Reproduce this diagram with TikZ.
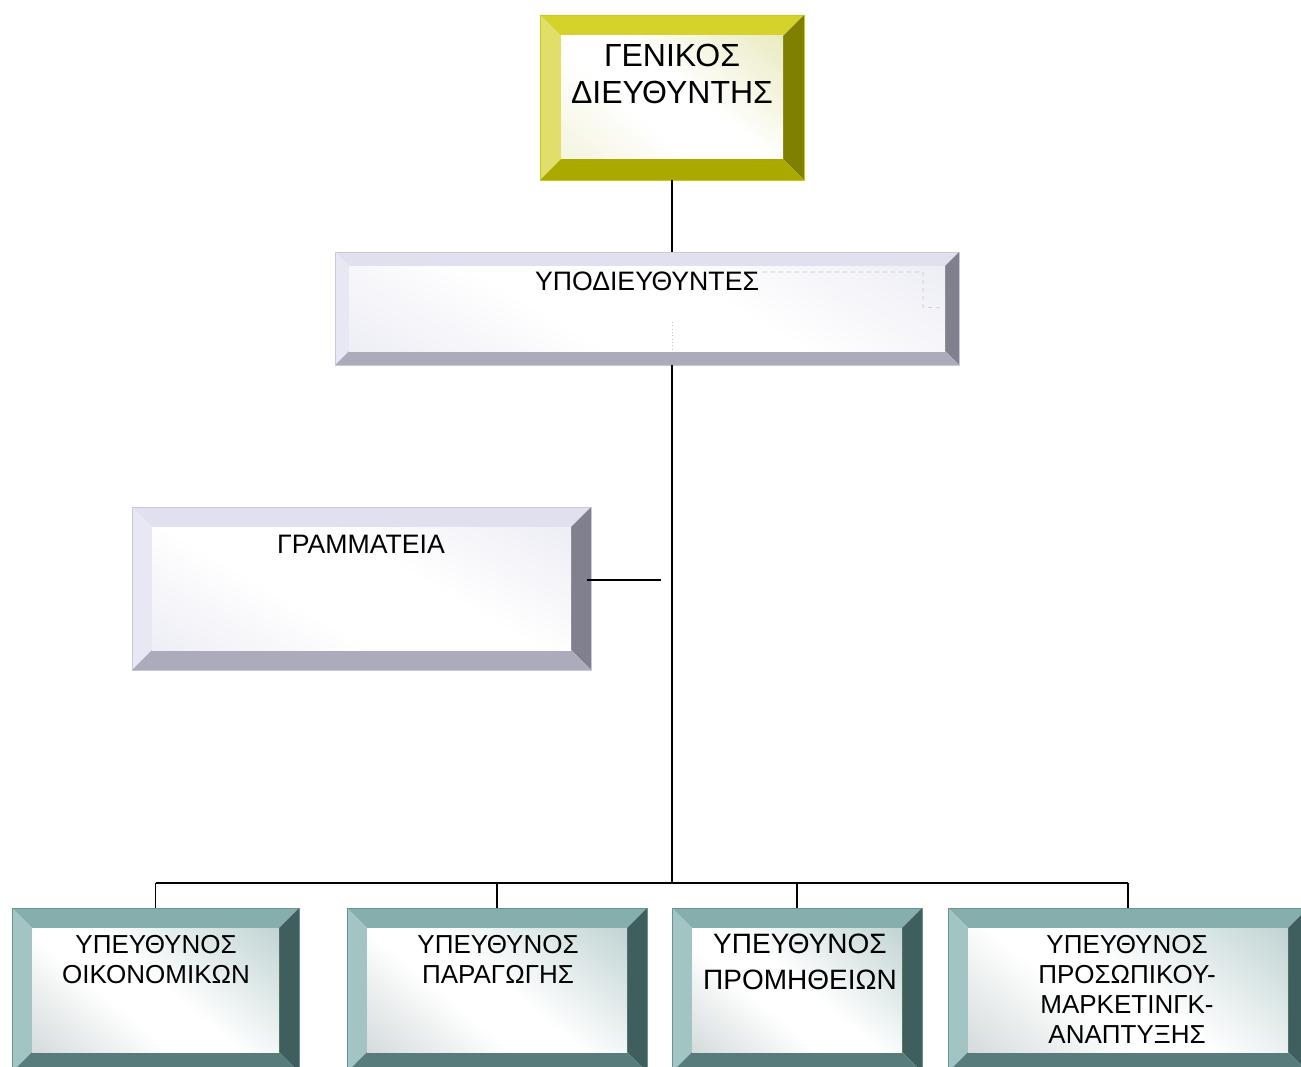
\documentclass[tikz,border=0pt]{standalone}
\usepackage{fontspec}
\setmainfont{Liberation Sans}
\usetikzlibrary{calc}
\definecolor{yltop}{HTML}{D6D22C}
\definecolor{ylleft}{HTML}{E2DE6A}
\definecolor{ylright}{HTML}{7F7F00}
\definecolor{ylbottom}{HTML}{A9A900}
\definecolor{yledge}{HTML}{C8C820}
\definecolor{ylfA}{HTML}{E0E0A2}
\definecolor{ylfB}{HTML}{EDEDCC}
\definecolor{lvtop}{HTML}{E0E0EE}
\definecolor{lvleft}{HTML}{E8E8F4}
\definecolor{lvright}{HTML}{80808F}
\definecolor{lvbottom}{HTML}{ABABBC}
\definecolor{lvedge}{HTML}{C8C8DC}
\definecolor{lvfA}{HTML}{E2E2F0}
\definecolor{lvfB}{HTML}{E2E2F0}
\definecolor{tltop}{HTML}{86AEAC}
\definecolor{tlleft}{HTML}{A2C4C2}
\definecolor{tlright}{HTML}{3F5F5E}
\definecolor{tlbottom}{HTML}{587C7B}
\definecolor{tledge}{HTML}{6A9492}
\definecolor{tlfA}{HTML}{A6C0C0}
\definecolor{tlfB}{HTML}{BCC6C6}
\pgfdeclareverticalshading{ylsh}{100bp}{color(0bp)=(ylfB); color(40bp)=(white); color(55bp)=(white); color(100bp)=(ylfA)}
\pgfdeclareverticalshading{lvsh}{100bp}{color(0bp)=(lvfB); color(40bp)=(white); color(58bp)=(white); color(100bp)=(lvfA)}
\pgfdeclareverticalshading{tlsh}{100bp}{color(0bp)=(tlfB); color(40bp)=(white); color(52bp)=(white); color(100bp)=(tlfA)}
\tikzset{
  ylface/.style={shading=ylsh, shading angle=-40},
  lvface/.style={shading=lvsh, shading angle=-30},
  tlface/.style={shading=tlsh, shading angle=-40},
  lbl/.style={inner sep=0pt, outer sep=0pt, align=center, anchor=north, text=black},
  conn/.style={draw=black, line width=1.5pt},
  drop/.style={draw=black, line width=1pt},
  ghost/.style={draw=gray!45, line width=0.5pt, dashed},
}
\newcommand\bevbox[7]{%
  \fill[#7top] (#2,#3) -- (#4,#3) -- ({#4-#6},{#3+#6}) -- ({#2+#6},{#3+#6}) -- cycle;
  \fill[#7left] (#2,#3) -- ({#2+#6},{#3+#6}) -- ({#2+#6},{#5-#6}) -- (#2,#5) -- cycle;
  \fill[#7right] (#4,#3) -- (#4,#5) -- ({#4-#6},{#5-#6}) -- ({#4-#6},{#3+#6}) -- cycle;
  \fill[#7bottom] (#2,#5) -- (#4,#5) -- ({#4-#6},{#5-#6}) -- ({#2+#6},{#5-#6}) -- cycle;
  \shade[#7face] ({#2+#6},{#3+#6}) rectangle ({#4-#6},{#5-#6});
  \node[draw=#7edge, line width=0.6pt, inner sep=0pt, outer sep=0pt,
        minimum width={(#4-#2)*0.75pt}, minimum height={(#5-#3)*0.75pt}]
        (#1) at ({(#2+#4)/2},{(#3+#5)/2}) {};
}
\begin{document}
\begin{tikzpicture}[x=0.75pt,y=-0.75pt]
\useasboundingbox (0,0) rectangle (1301,1066);
\clip (0,0) rectangle (1301,1066);
\fill[white] (0,0) rectangle (1301,1066);

% boxes
\bevbox{gd}{540}{15}{804}{180}{21}{yl}
\bevbox{ypo}{335}{252}{959}{365}{14}{lv}
\bevbox{gram}{132}{507}{591}{670}{20}{lv}
\bevbox{bA}{12}{908}{299}{1072}{20}{tl}
\bevbox{bB}{347}{908}{647}{1072}{20}{tl}
\bevbox{bC}{672}{908}{922}{1072}{20}{tl}
\bevbox{bD}{948}{908}{1308}{1072}{20}{tl}

% faint guides inside ypo
\draw[ghost] (763,272) -- (923,272) -- (923,307) -- (943,308);
\draw[ghost, dotted] (672,322) -- (672,350);

% labels
\node[lbl, font=\fontsize{24}{27.5}\selectfont] (gdt) at (672,44) {ΓΕΝΙΚΟΣ\\ΔΙΕΥΘΥΝΤΗΣ};
\node[lbl, font=\fontsize{20}{24}\selectfont] (ypot) at (647,272) {ΥΠΟΔΙΕΥΘΥΝΤΕΣ};
\node[lbl, font=\fontsize{20}{24}\selectfont] (gramt) at (361,535) {ΓΡΑΜΜΑΤΕΙΑ};
\node[lbl, font=\fontsize{19.5}{22.5}\selectfont] (bAt) at (156,935) {ΥΠΕΥΘΥΝΟΣ\\ΟΙΚΟΝΟΜΙΚΩΝ};
\node[lbl, font=\fontsize{19.5}{22.5}\selectfont] (bBt) at (498,935) {ΥΠΕΥΘΥΝΟΣ\\ΠΑΡΑΓΩΓΗΣ};
\node[lbl, font=\fontsize{21}{27}\selectfont] (bCt) at (800,934) {ΥΠΕΥΘΥΝΟΣ\\ΠΡΟΜΗΘΕΙΩΝ};
\node[lbl, font=\fontsize{19.5}{22.5}\selectfont] (bDt) at (1127,935) {ΥΠΕΥΘΥΝΟΣ\\ΠΡΟΣΩΠΙΚΟΥ-\\ΜΑΡΚΕΤΙΝΓΚ-\\ΑΝΑΠΤΥΞΗΣ};

% connectors
\coordinate (bus) at (gd.south |- 0,883);
\coordinate (gtap) at (661,580);
\draw[conn] (gd.south) -- (gd.south |- ypo.north);
\draw[conn] (gd.south |- ypo.south) -- (bus);
\draw[conn] (bA.north |- bus) -- (bD.north |- bus);
\draw[drop] (bA.north |- bus) -- (bA.north);
\draw[drop] (bB.north |- bus) -- (bB.north);
\draw[drop] (bC.north |- bus) -- (bC.north);
\draw[drop] (bD.north |- bus) -- (bD.north);
\draw[drop] ($(gram.east |- gtap)+(-4,0)$) -- (gtap);
\end{tikzpicture}
\end{document}
